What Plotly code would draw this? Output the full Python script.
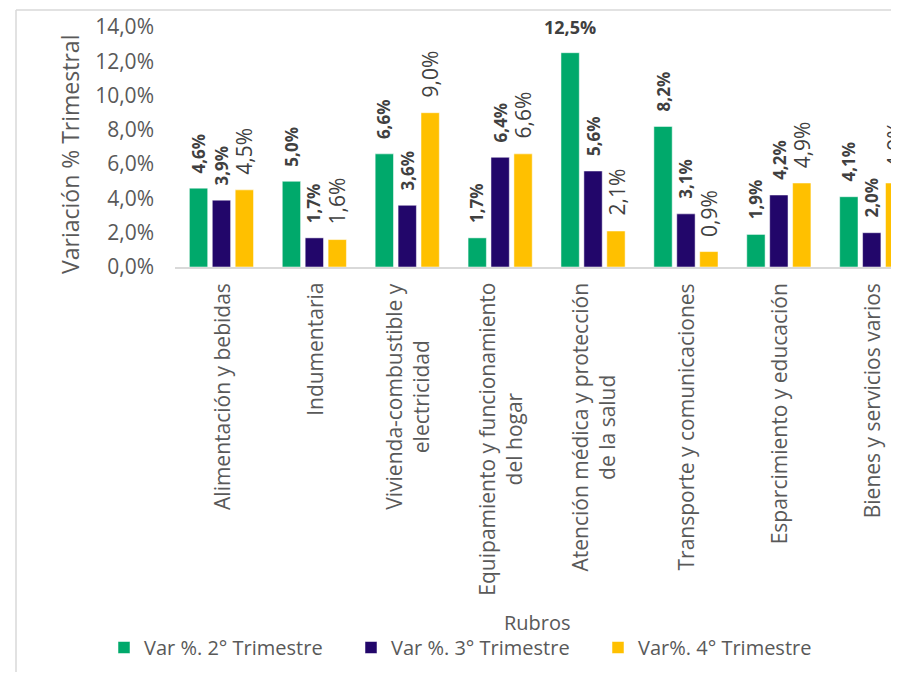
import plotly.graph_objects as go

categories = ["Alimentación y bebidas", "Indumentaria", "Vivienda-combustible y electricidad",
              "Equipamiento y funcionamiento del hogar", "Atención médica y protección de la salud",
              "Transporte y comunicaciones", "Esparcimiento y educación", "Bienes y servicios varios"]
tick_labels = ["Alimentación y bebidas", "Indumentaria", "Vivienda-combustible y<br>electricidad",
               "Equipamiento y funcionamiento<br>del hogar", "Atención médica y protección<br>de la salud",
               "Transporte y comunicaciones", "Esparcimiento y educación", "Bienes y servicios varios"]
series_names = ["Var %. 2° Trimestre", "Var %. 3° Trimestre", "Var%. 4° Trimestre"]
q2 = [4.6, 5.0, 6.6, 1.7, 12.5, 8.2, 1.9, 4.1]
q3 = [3.9, 1.7, 3.6, 6.4, 5.6, 3.1, 4.2, 2.0]
q4 = [4.5, 1.6, 9.0, 6.6, 2.1, 0.9, 4.9, 4.9]
y_ticks = [0, 2, 4, 6, 8, 10, 12, 14]
y_tick_text = [f"{v:.1f}%".replace(".", ",") for v in y_ticks]

colors = ["#00A96B", "#22066A", "#FFC000"]
series = [q2, q3, q4]
bold = [True, True, False]
offsets = [-23, 0, 23]

OFF = 8  # page body margin
W, H = 899 - 2 * OFF, 680 - 2 * OFF
L, R = 175 - OFF, 0
T = 27 - OFF
B = H - (267 - OFF)
pw, ph = W - L - R, H - T - B
band = 92.9

def px_x(p):
    return (p - OFF - L) / pw

def px_y(p):
    return (H - B - (p - OFF)) / ph

fig = go.Figure()
for name, vals, col in zip(series_names, series, colors):
    fig.add_trace(go.Bar(x=categories, y=vals, name=name,
                         marker=dict(color=col, line=dict(color="rgba(255,255,255,0.5)", width=1))))

ann = []
FONT = "Open Sans, Arial, sans-serif"
for vals, b, dx in zip(series, bold, offsets):
    for c, v in zip(categories, vals):
        txt = f"{v:.1f}%".replace(".", ",")
        if b:
            txt = f"<b>{txt}</b>"
        horiz = v > 12
        ann.append(dict(x=c, y=v, xref="x", yref="y", text=txt, showarrow=False,
                        xshift=dx, yshift=12 if horiz else 13,
                        yanchor="bottom", xanchor="center",
                        textangle=0 if horiz else -90,
                        font=dict(family=FONT, size=(18 if horiz else 17) if b else 21, color="#404040")))

for c, t in zip(categories, tick_labels):
    ann.append(dict(x=c, y=px_y(281), xref="x", yref="paper", text=t, showarrow=False,
                    yanchor="top", xanchor="center", textangle=-90, align="center",
                    font=dict(family=FONT, size=21, color="#595959")))

ann.append(dict(x=px_x(70), y=px_y(155), xref="paper", yref="paper", text="Variación % Trimestral",
                showarrow=False, textangle=-90, xanchor="center", yanchor="middle",
                font=dict(family=FONT, size=23, color="#595959")))
ann.append(dict(x=px_x(537), y=px_y(622), xref="paper", yref="paper", text="Rubros",
                showarrow=False, xanchor="center", yanchor="middle",
                font=dict(family=FONT, size=20, color="#595959")))

shapes = [
    dict(type="line", xref="paper", yref="paper", x0=px_x(16), x1=px_x(16), y0=px_y(10), y1=px_y(700),
         line=dict(color="#D9D9D9", width=1.5)),
    dict(type="line", xref="paper", yref="paper", x0=px_x(16), x1=px_x(910), y0=px_y(10), y1=px_y(10),
         line=dict(color="#D9D9D9", width=1.5)),
]

fig.update_layout(
    width=W, height=H,
    margin=dict(l=L, r=R, t=T, b=B, autoexpand=False),
    paper_bgcolor="white", plot_bgcolor="white",
    barmode="group", bargap=0.26, bargroupgap=0.2,
    showlegend=True,
    legend=dict(orientation="h", x=px_x(104), y=px_y(628), xanchor="left", yanchor="top",
                entrywidth=202, entrywidthmode="pixels", itemwidth=30,
                font=dict(family=FONT, size=20, color="#595959")),
    annotations=ann, shapes=shapes,
    xaxis=dict(range=[-0.5, -0.5 + pw / band], showticklabels=False, showline=True,
               linecolor="#D9D9D9", linewidth=1.5, showgrid=False, zeroline=False, ticks=""),
    yaxis=dict(range=[0, 14], tickmode="array", tickvals=y_ticks, ticktext=y_tick_text,
               showgrid=False, zeroline=False, showline=False, ticks="",
               ticklabelstandoff=20,
               tickfont=dict(family=FONT, size=21, color="#595959")),
)

fig.write_html("out.html")
